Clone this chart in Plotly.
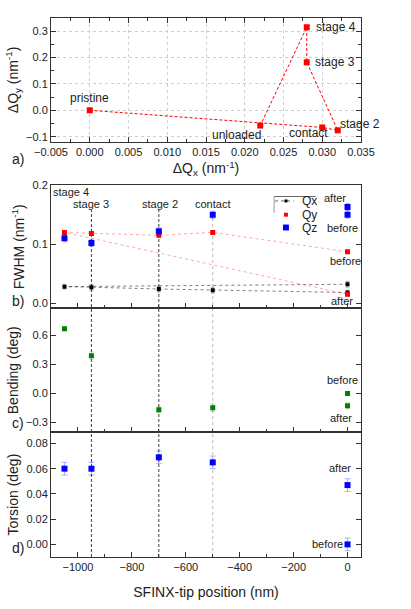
import plotly.graph_objects as go

# ---------------- data ----------------
# panel a: peak shift trajectory (experiment order)
state_labels = ["pristine", "contact", "stage 2", "stage 3", "stage 4", "unloaded"]
dqx = [0.000, 0.030, 0.032, 0.028, 0.028, 0.022]
dqy = [0.000, -0.065, -0.076, 0.182, 0.315, -0.058]

# panels b-d: order before(0), contact, stage 2, stage 3, stage 4, after(0)
tip_pos = [0, -500, -700, -950, -1050, 0]
fwhm_qx = [0.018, 0.022, 0.024, 0.027, 0.028, 0.032]
fwhm_qy = [0.087, 0.120, 0.115, 0.118, 0.120, 0.015]
fwhm_qz = [0.150, 0.150, 0.122, 0.102, 0.110, 0.163]
err_qx = [0.004, 0.005, 0.005, 0.005, 0.004, 0.005]
err_qy = [0.003, 0.003, 0.003, 0.003, 0.003, 0.003]
err_qz = [0.006, 0.006, 0.006, 0.006, 0.006, 0.006]
bending = [0.000, -0.148, -0.168, 0.390, 0.670, -0.127]
err_bend = [0.02, 0.04, 0.03, 0.04, 0.02, 0.03]
torsion = [0.000, 0.065, 0.069, 0.060, 0.060, 0.047]
err_tors = [0.005, 0.005, 0.005, 0.005, 0.005, 0.005]
guide_pos = [-950, -700, -500]
legend_names = ["Qx", "Qy", "Qz"]

# ---------------- layout helpers ----------------
W, H = 411, 609
L, R, T, B = 47, 50, 14, 47
PW, PH = W - L - R, H - T - B


def pxx(px):
    return (px - L) / PW


def pxy(py):
    return (H - B - py) / PH


FONT = "Liberation Sans, Arial, sans-serif"
RED, BLUE, GREEN = "#ff0000", "#0000ff", "#008000"

fig = go.Figure()

# panel a
fig.add_trace(go.Scatter(x=dqx, y=dqy, mode="lines+markers", xaxis="x", yaxis="y",
                         line=dict(color=RED, width=1, dash="3px,2px"),
                         marker=dict(symbol="square", size=6, color=RED),
                         showlegend=False))

# panel b
fig.add_trace(go.Scatter(x=tip_pos, y=fwhm_qx, mode="lines+markers", xaxis="x2", yaxis="y2",
                         name="Qx", line=dict(color="rgba(0,0,0,0.5)", width=1, dash="dot"),
                         marker=dict(symbol="square", size=4, color="black"),
                         error_y=dict(type="data", array=err_qx, color="rgba(0,0,0,0.3)",
                                      thickness=1, width=2), showlegend=False))
fig.add_trace(go.Scatter(x=tip_pos, y=fwhm_qy, mode="lines", xaxis="x2", yaxis="y2",
                         line=dict(color="rgba(255,0,0,0.35)", width=1, dash="dot"),
                         showlegend=False, hoverinfo="skip"))
fig.add_trace(go.Scatter(x=tip_pos, y=fwhm_qy, mode="markers", xaxis="x2", yaxis="y2",
                         name="Qy", marker=dict(symbol="square", size=5, color=RED),
                         error_y=dict(type="data", array=err_qy, color="rgba(255,0,0,0.3)",
                                      thickness=1, width=2), showlegend=False))
fig.add_trace(go.Scatter(x=tip_pos, y=fwhm_qz, mode="markers", xaxis="x2", yaxis="y2",
                         name="Qz", marker=dict(symbol="square", size=6, color=BLUE),
                         error_y=dict(type="data", array=err_qz, color="rgba(0,0,255,0.3)",
                                      thickness=1, width=2), showlegend=False))

# panel c
fig.add_trace(go.Scatter(x=tip_pos, y=bending, mode="markers", xaxis="x3", yaxis="y3",
                         marker=dict(symbol="square", size=5, color=GREEN),
                         error_y=dict(type="data", array=err_bend, color="rgba(0,128,0,0.25)",
                                      thickness=1, width=2),
                         showlegend=False))

# panel d
fig.add_trace(go.Scatter(x=tip_pos, y=torsion, mode="markers", xaxis="x4", yaxis="y4",
                         marker=dict(symbol="square", size=6, color=BLUE),
                         error_y=dict(type="data", array=err_tors, color="rgba(0,0,255,0.3)",
                                      thickness=1, width=3),
                         showlegend=False))

# ---------------- axes ----------------
tickfont = dict(family=FONT, size=11, color="#222")
titlefont = dict(family=FONT, size=14, color="#222")

common = dict(showline=True, linecolor="#333", linewidth=1, ticks="inside", ticklen=5,
              tickcolor="#333", tickfont=tickfont, zeroline=False, showgrid=False)

d_a = [pxy(140), pxy(14)]
d_b = [pxy(309.3), pxy(184)]
d_c = [pxy(435), pxy(309.3)]
d_d = [0, pxy(435)]

fig.update_layout(
    xaxis=dict(common, domain=[0, 1], anchor="y", range=[-0.005, 0.035], dtick=0.005,
               tickformat=".3f", mirror="allticks", showgrid=True, gridcolor="#cfcfcf",
               griddash="dot", minor=dict(ticks="inside", ticklen=3, dtick=0.0025, tickcolor="#333"),
               title=dict(text="ΔQ<sub>x</sub> (nm<sup>-1</sup>)", font=titlefont, standoff=6)),
    yaxis=dict(common, domain=d_a, anchor="x", range=[-0.12, 0.35], dtick=0.1, tickformat=".1f",
               mirror="allticks", showgrid=True, gridcolor="#cfcfcf", griddash="dot",
               minor=dict(ticks="inside", ticklen=3, dtick=0.05, tickcolor="#333"),
               title=dict(text="ΔQ<sub>y</sub> (nm<sup>-1</sup>)", font=titlefont, standoff=4)),
    xaxis2=dict(common, domain=[0, 1], anchor="y2", range=[-1100, 50], dtick=200, mirror=True,
                showticklabels=False, minor=dict(ticks="inside", ticklen=3, dtick=100, tickcolor="#333")),
    yaxis2=dict(common, domain=d_b, anchor="x2", range=[-0.009, 0.2], dtick=0.1, tickformat=".1f",
                mirror="allticks",
                title=dict(text="FWHM (nm<sup>-1</sup>)", font=titlefont, standoff=4)),
    xaxis3=dict(common, domain=[0, 1], anchor="y3", range=[-1100, 50], dtick=200, mirror=True,
                showticklabels=False, minor=dict(ticks="inside", ticklen=3, dtick=100, tickcolor="#333")),
    yaxis3=dict(common, domain=d_c, anchor="x3", range=[-0.4, 0.88], dtick=0.3, tickformat=".1f",
                mirror="allticks",
                title=dict(text="Bending (deg)", font=titlefont, standoff=4)),
    xaxis4=dict(common, domain=[0, 1], anchor="y4", range=[-1100, 50], dtick=200, mirror=True,
                minor=dict(ticks="inside", ticklen=3, dtick=100, tickcolor="#333"),
                title=dict(text="SFINX-tip position (nm)", font=titlefont, standoff=14)),
    yaxis4=dict(common, domain=d_d, anchor="x4", range=[-0.01, 0.089], dtick=0.02, tickformat=".2f",
                mirror="allticks",
                title=dict(text="Torsion (deg)", font=titlefont, standoff=4)),
)

# ---------------- guide lines ----------------
guide_styles = [dict(color="#444", width=1, dash="3px,2px"),
                dict(color="#444", width=1, dash="3px,2px"),
                dict(color="#bbbbbb", width=1, dash="dot")]
for gx, st in zip(guide_pos, guide_styles):
    fig.add_shape(type="line", xref="x2", yref="paper", x0=gx, x1=gx, y0=0, y1=pxy(209),
                  line=st, layer="below")

# ---------------- compact legend (box, symbols, names) ----------------
fig.add_shape(type="line", xref="paper", yref="paper", x0=pxx(273), x1=pxx(315),
              y0=pxy(195.5), y1=pxy(195.5), line=dict(color="#666", width=1))
fig.add_shape(type="line", xref="paper", yref="paper", x0=pxx(273), x1=pxx(273),
              y0=pxy(195.5), y1=pxy(212), line=dict(color="#999", width=1))
fig.add_shape(type="line", xref="paper", yref="paper", x0=pxx(274), x1=pxx(293),
              y0=pxy(200), y1=pxy(200), line=dict(color="rgba(0,0,0,0.6)", width=1, dash="dot"))
leg_sym = [("black", 200, 1.5), (RED, 214, 2), (BLUE, 227, 3)]
for (col, py, hs), nm in zip(leg_sym, legend_names):
    fig.add_shape(type="rect", xref="paper", yref="paper",
                  x0=pxx(285 - hs), x1=pxx(285 + hs), y0=pxy(py - hs), y1=pxy(py + hs),
                  fillcolor=col, line=dict(width=0))

# ---------------- annotations ----------------
ann = []


def add(text, x, y, xref="paper", yref="paper", size=11, xanchor="center", **kw):
    ann.append(dict(text=text, x=x, y=y, xref=xref, yref=yref, showarrow=False,
                    xanchor=xanchor, yanchor="middle",
                    font=dict(family=FONT, size=size, color="#222"), **kw))


# legend names
for (col, py, hs), nm in zip(leg_sym, legend_names):
    add(nm, pxx(299), pxy(py), xanchor="left", size=12)

# panel a labels (attached to points)
a_offsets = {"pristine": (0, 12, "center"), "contact": (-14, -6, "center"),
             "stage 2": (0, 6, "left"), "stage 3": (6, 0, "left"),
             "stage 4": (7, 0, "left"), "unloaded": (-24, -9, "center")}
for lab, xv, yv in zip(state_labels, dqx, dqy):
    dx, dy, xa = a_offsets[lab]
    add(lab, xv, yv, xref="x", yref="y", size=12, xanchor=xa, xshift=dx, yshift=dy)

# panel b stage labels
add("stage 4", pxx(47), pxy(190.5), xanchor="left", size=11)
add("stage 3", pxx(88), pxy(203), size=11)
add("stage 2", pxx(157), pxy(203), size=11)
add("contact", pxx(211), pxy(203), size=11)
add("after", pxx(335), pxy(197))
add("before", pxx(342), pxy(227))
add("before", pxx(345), pxy(261))
add("after", pxx(342), pxy(302))
# panel c
add("before", pxx(342), pxy(382))
add("after", pxx(341), pxy(421))
# panel d
add("after", pxx(340), pxy(472))
add("before", pxx(327), pxy(549))

# panel letters
for lt, py in [("a)", 157), ("b)", 302), ("c)", 426), ("d)", 553)]:
    add(lt, pxx(14), pxy(py), size=14)

fig.update_layout(
    annotations=ann,
    width=W, height=H,
    margin=dict(l=L, r=R, t=T, b=B, pad=0),
    paper_bgcolor="white", plot_bgcolor="white",
    font=dict(family=FONT, size=11, color="#222"),
    showlegend=False,
)

fig.write_html("out.html")
